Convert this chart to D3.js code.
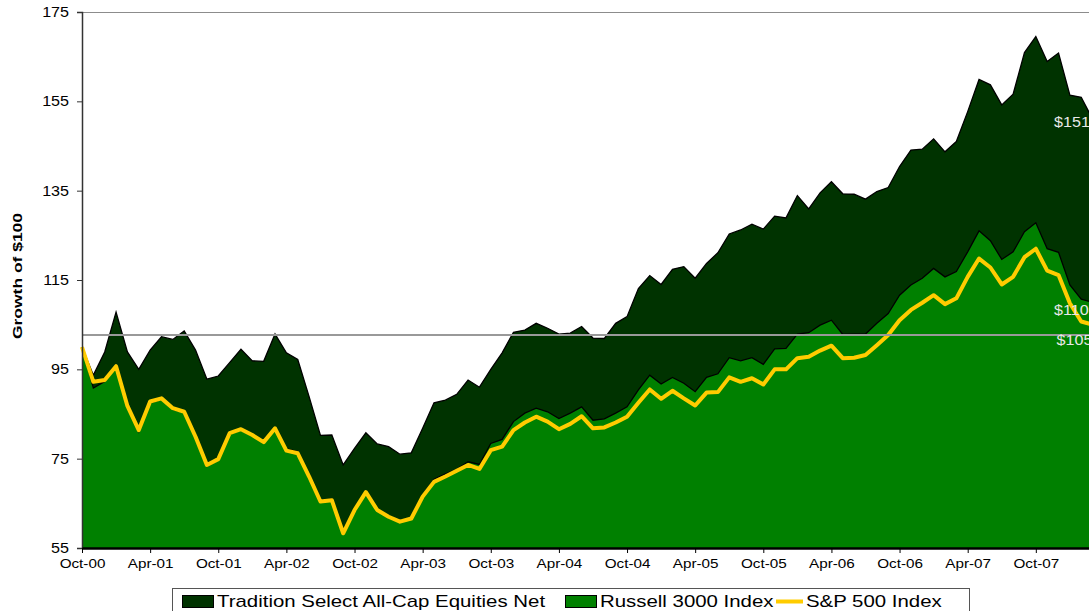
<!DOCTYPE html>
<html>
<head>
<meta charset="utf-8">
<script src="https://cdn.jsdelivr.net/npm/d3@7"></script>
<style>
    body { margin: 0; background: #fff; overflow: hidden; }
    text { font-family: "Liberation Sans", Arial, sans-serif; }
</style>
</head>
<body>
<script>
// Monthly growth of $100, Oct-00 .. Mar-08 (one value per month)
var tradition = [100, 93.7, 98.9, 107.8, 98.9, 95.0, 99.3, 102.3, 101.7, 103.6,
    99.3, 92.8, 93.5, 96.5, 99.5, 96.9, 96.8, 102.9, 98.7, 97.2,
    88.9, 80.2, 80.3, 73.6, 77.3, 80.8, 78.3, 77.7, 76.0, 76.3,
    81.8, 87.5, 88.1, 89.4, 92.6, 91.0, 95.0, 98.7, 103.3, 103.8,
    105.3, 104.2, 102.9, 103.1, 104.6, 102.0, 101.9, 105.3, 106.8, 113.1,
    116.0, 114.0, 117.4, 118.0, 115.4, 118.7, 121.1, 125.3, 126.2, 127.5,
    126.4, 129.3, 128.9, 133.9, 130.9, 134.5, 137.0, 134.3, 134.2, 133.1,
    134.8, 135.7, 140.4, 144.1, 144.3, 146.6, 143.7, 146.0, 152.7, 159.9,
    158.7, 154.2, 156.6, 165.9, 169.5, 163.9, 165.8, 156.4, 155.9, 151];

var russell = [100, 90.8, 92.3, 95.5, 86.5, 81.0, 87.5, 88.3, 86.0, 85.3,
    79.7, 73.3, 74.7, 80.5, 81.4, 80.1, 78.5, 81.6, 77.2, 76.6,
    71.2, 65.6, 65.9, 58.4, 63.6, 67.7, 63.7, 62.2, 61.1, 61.8,
    66.8, 70.4, 71.6, 72.6, 74.3, 73.7, 78.4, 79.3, 83.3, 85.2,
    86.3, 85.5, 84.0, 85.2, 86.6, 83.6, 83.9, 85.2, 86.6, 90.4,
    93.7, 91.7, 93.2, 91.9, 90.0, 93.2, 94.0, 97.6, 96.9, 97.6,
    96.1, 99.6, 99.7, 102.9, 103.2, 104.9, 106.0, 102.8, 102.9, 102.9,
    105.3, 107.5, 111.6, 113.9, 115.4, 117.6, 115.7, 116.9, 121.3, 126.0,
    123.8, 119.6, 121.3, 125.8, 127.8, 122.0, 121.2, 113.9, 110.7, 110];

var sp500 = [100, 92.2, 92.6, 95.7, 86.8, 81.4, 87.8, 88.5, 86.3, 85.5,
    79.9, 73.6, 74.9, 80.7, 81.6, 80.3, 78.7, 81.8, 76.8, 76.2,
    71.0, 65.4, 65.7, 58.3, 63.5, 67.5, 63.5, 62.0, 60.9, 61.6,
    66.5, 69.8, 71.0, 72.3, 73.6, 72.7, 76.9, 77.7, 81.4, 83.1,
    84.4, 83.3, 81.6, 82.8, 84.5, 81.8, 82.0, 83.1, 84.4, 87.5,
    90.5, 88.4, 90.2, 88.5, 86.9, 89.8, 89.9, 93.2, 92.2, 93.0,
    91.6, 95.0, 95.0, 97.5, 97.8, 99.2, 100.3, 97.5, 97.6, 98.2,
    100.4, 102.7, 106.0, 108.3, 109.9, 111.6, 109.6, 110.9, 115.7, 119.8,
    117.8, 114.0, 115.7, 120.1, 122.0, 117.1, 116.1, 109.8, 105.7, 105];

// x tick labels, every 6 months starting at month 0
var tickLabels = ["Oct-00", "Apr-01", "Oct-01", "Apr-02", "Oct-02", "Apr-03",
    "Oct-03", "Apr-04", "Oct-04", "Apr-05", "Oct-05", "Apr-06", "Oct-06",
    "Apr-07", "Oct-07"];
var yTicks = [55, 75, 95, 115, 135, 155, 175];
var refValue = 102.7;
var endLabels = ["$151", "$110", "$105"];
var seriesNames = ["Tradition Select All-Cap Equities Net",
    "Russell 3000 Index", "S&P 500 Index"];

var W = 1089, H = 611;
var plot = {left: 82, top: 12, bottom: 548};
var monthPx = 11.355;

// the source picture is a little wider than tall, stretch texts to match
function stretch(sel, k) {
    sel.each(function() {
        var w = this.getComputedTextLength();
        d3.select(this)
            .attr("textLength", w * k)
            .attr("lengthAdjust", "spacingAndGlyphs");
    });
}

var svg = d3.select("body").append("svg")
    .attr("width", W)
    .attr("height", H);

var x = d3.scaleLinear()
    .domain([0, tradition.length - 1])
    .range([plot.left, plot.left + (tradition.length - 1) * monthPx]);

var y = d3.scaleLinear()
    .domain([55, 175])
    .range([plot.bottom, plot.top]);

// top gridline
svg.append("line")
    .attr("x1", plot.left).attr("x2", W)
    .attr("y1", y(175) + 0.5).attr("y2", y(175) + 0.5)
    .attr("stroke", "#8c8c8c")
    .attr("stroke-width", 1);

var area = d3.area()
    .x(function(d, i) { return x(i); })
    .y0(y(55))
    .y1(function(d) { return y(d); });
var line = d3.line()
    .x(function(d, i) { return x(i); })
    .y(function(d) { return y(d); });

svg.append("path")
    .attr("d", area(tradition))
    .attr("fill", "#003300");
svg.append("path")
    .attr("d", line(tradition))
    .attr("fill", "none")
    .attr("stroke", "#000")
    .attr("stroke-width", 1.3);

svg.append("path")
    .attr("d", area(russell))
    .attr("fill", "#008000");
svg.append("path")
    .attr("d", line(russell))
    .attr("fill", "none")
    .attr("stroke", "#000")
    .attr("stroke-width", 1.3);

svg.append("path")
    .attr("d", line(sp500))
    .attr("fill", "none")
    .attr("stroke", "#ffcc00")
    .attr("stroke-width", 4)
    .attr("stroke-linejoin", "round");

// reference line
svg.append("line")
    .attr("x1", plot.left).attr("x2", W)
    .attr("y1", y(refValue)).attr("y2", y(refValue))
    .attr("stroke", "#999")
    .attr("stroke-width", 2);

// end labels
var lastIdx = tradition.length - 1;
var labelData = [
    {t: endLabels[0], v: tradition[lastIdx], dx: -38.5, dy: 8},
    {t: endLabels[1], v: russell[lastIdx], dx: -38.5, dy: 13},
    {t: endLabels[2], v: sp500[lastIdx], dx: -36, dy: 20}
];
var ends = svg.selectAll(".endlabel")
    .data(labelData)
    .enter().append("text")
    .attr("class", "endlabel")
    .attr("x", function(d) { return x(lastIdx) + d.dx; })
    .attr("y", function(d) { return y(d.v) + d.dy; })
    .attr("fill", "#e8e8e8")
    .style("font-size", "14px")
    .text(function(d) { return d.t; });
stretch(ends, 1.15);

// y axis
var yAxis = d3.axisLeft(y)
    .tickValues(yTicks)
    .tickSize(5)
    .tickPadding(8);
var gy = svg.append("g")
    .attr("transform", "translate(" + plot.left + ",0)")
    .call(yAxis);
gy.select(".domain").attr("stroke", "#333").attr("stroke-width", 1.5);
gy.selectAll(".tick line").attr("stroke", "#333");
gy.selectAll("text")
    .style("font-size", "14px")
    .attr("fill", "#000");
stretch(gy.selectAll("text"), 1.15);

// x axis
var xAxis = d3.axisBottom(x)
    .tickValues(d3.range(0, tickLabels.length * 6, 6))
    .tickFormat(function(d) { return tickLabels[d / 6]; })
    .tickSize(5)
    .tickPadding(6)
    .tickSizeOuter(0);
var gx = svg.append("g")
    .attr("transform", "translate(0," + plot.bottom + ")")
    .call(xAxis);
gx.select(".domain").attr("stroke", "#000").attr("stroke-width", 2.5);
gx.selectAll(".tick line").attr("stroke", "#000");
gx.selectAll("text")
    .style("font-size", "12.5px")
    .attr("fill", "#000");
stretch(gx.selectAll("text"), 1.22);

// y title
var ytitle = svg.append("text")
    .attr("transform", "translate(22," + 276 + ") rotate(-90)")
    .attr("text-anchor", "middle")
    .style("font-size", "13.5px")
    .style("font-weight", "bold")
    .text("Growth of $100");
ytitle.attr("textLength", 126).attr("lengthAdjust", "spacingAndGlyphs");

// legend
var legend = svg.append("g");
legend.append("rect")
    .attr("x", 172.5).attr("y", 588.5)
    .attr("width", 797).attr("height", 30)
    .attr("fill", "#fff")
    .attr("stroke", "#555");

legend.append("rect")
    .attr("x", 182.5).attr("y", 595.5)
    .attr("width", 31).attr("height", 12)
    .attr("fill", "#003300").attr("stroke", "#000");
legend.append("rect")
    .attr("x", 565.5).attr("y", 595.5)
    .attr("width", 31).attr("height", 12)
    .attr("fill", "#008000").attr("stroke", "#000");
legend.append("line")
    .attr("x1", 776).attr("x2", 803)
    .attr("y1", 601.5).attr("y2", 601.5)
    .attr("stroke", "#ffcc00").attr("stroke-width", 4);

var legendX = [217, 600, 806];
var ltext = legend.selectAll(".ltext")
    .data(seriesNames)
    .enter().append("text")
    .attr("class", "ltext")
    .attr("x", function(d, i) { return legendX[i]; })
    .attr("y", 607)
    .style("font-size", "17px")
    .text(function(d) { return d; });
stretch(ltext, 1.2);
</script>
</body>
</html>
